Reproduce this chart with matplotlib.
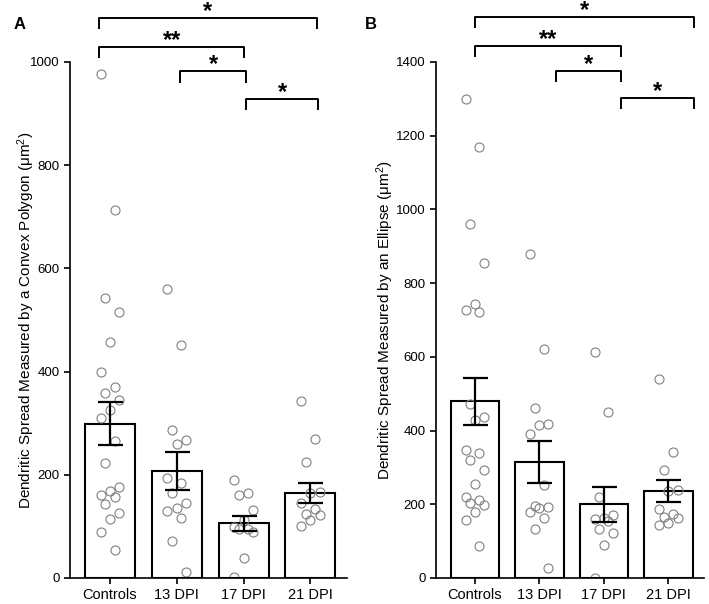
import numpy as np
import matplotlib
matplotlib.use("Agg")
from matplotlib import pyplot as plt
from matplotlib import transforms

plt.rcParams['font.family'] = ['Liberation Sans', 'DejaVu Sans']
plt.rcParams['mathtext.fontset'] = 'custom'
plt.rcParams['mathtext.rm'] = 'Liberation Sans'
plt.rcParams['mathtext.it'] = 'Liberation Sans'

groups = ["Controls", "13 DPI", "17 DPI", "21 DPI"]

# panel A: convex polygon (um^2)
polygon_pts = [
    [977, 713, 542, 515, 457, 399, 370, 359, 344, 326, 310, 266, 223, 177,
     168, 160, 157, 144, 126, 115, 90, 54],
    [560, 451, 286, 268, 259, 193, 185, 165, 146, 136, 130, 117, 72, 12],
    [190, 165, 160, 131, 113, 99, 94, 94, 90, 39, 1],
    [343, 269, 225, 167, 164, 146, 133, 125, 122, 112, 101],
]
polygon_mean = [299, 208, 106, 165]
polygon_sem = [42, 37, 15, 19]

# panel B: ellipse (um^2)
ellipse_pts = [
    [1299, 1170, 960, 854, 743, 727, 721, 473, 437, 428, 348, 340, 321, 294,
     255, 219, 211, 204, 198, 178, 157, 87],
    [878, 622, 462, 417, 414, 390, 252, 196, 193, 190, 178, 164, 132, 26],
    [614, 450, 220, 171, 162, 160, 155, 133, 121, 89, 0],
    [540, 342, 294, 240, 236, 187, 173, 166, 162, 148, 145],
]
ellipse_mean = [479, 315, 200, 236]
ellipse_sem = [63, 57, 48, 30]

sig_labels = ["*", "**", "*", "*"]

fig = plt.figure(figsize=(7.09, 6.04), dpi=100)
axA = fig.add_axes([70 / 709, 26 / 604, 277 / 709, 516 / 604])
axB = fig.add_axes([436 / 709, 26 / 604, 268 / 709, 516 / 604])


def draw_panel(ax, pts, means, sems, ymax, ystep, ylabel, brackets, letter, letter_x, label_x):
    x = np.arange(len(groups))
    ax.bar(x, means, width=0.75, color='white', edgecolor='black', linewidth=1.5, zorder=1)
    for i, vals in enumerate(pts):
        n = len(vals)
        jit = ((np.arange(n) * 3) % 5 - 2) * 0.07
        ax.plot(i + jit, vals, 'o', mfc='none', mec='#808080', mew=0.8, ms=6.5,
                linestyle='none', zorder=2)
    ax.errorbar(x, means, yerr=sems, fmt='none', ecolor='black', elinewidth=1.6,
                capsize=9, capthick=1.6, zorder=3)
    ax.set_xlim(-0.6, 3.55)
    ax.set_ylim(0, ymax)
    ax.set_yticks(np.arange(0, ymax + 1, ystep))
    ax.set_xticks(x)
    ax.set_xticklabels(groups, fontsize=10.5)
    ax.tick_params(axis='y', labelsize=9.5, length=4, width=1.2)
    ax.tick_params(axis='x', length=4, width=1.2)
    for s in ['top', 'right']:
        ax.spines[s].set_visible(False)
    for s in ['left', 'bottom']:
        ax.spines[s].set_linewidth(1.2)
    ax.set_ylabel(ylabel, fontsize=11)
    ax.yaxis.set_label_coords(label_x, 0.5)

    tr = transforms.blended_transform_factory(ax.transData, ax.transAxes)
    for (x0, x1, yb), lab in zip(brackets, sig_labels):
        ax.plot([x0, x0, x1, x1], [yb - 0.02, yb, yb, yb - 0.02], color='black',
                lw=1.4, transform=tr, clip_on=False)
        ax.text((x0 + x1) / 2, yb, lab, transform=tr, ha='center', va='baseline',
                fontsize=17, fontweight='bold')
    ax.text(letter_x, 1.072, letter, transform=ax.transAxes, fontsize=12,
            fontweight='bold', ha='left', va='center')


draw_panel(axA, polygon_pts, polygon_mean, polygon_sem, 1000, 200,
           r'Dendritic Spread Measured by a Convex Polygon ($\mathrm{\mu m^2}$)',
           [(-0.165, 3.1, 1.085), (-0.165, 2.01, 1.029), (1.05, 2.04, 0.982), (2.04, 3.12, 0.928)],
           'A', -0.205, -0.12)
draw_panel(axB, ellipse_pts, ellipse_mean, ellipse_sem, 1400, 200,
           r'Dendritic Spread Measured by an Ellipse ($\mathrm{\mu m^2}$)',
           [(0.0, 3.4, 1.088), (0.0, 2.26, 1.031), (1.26, 2.26, 0.983), (2.26, 3.4, 0.930)],
           'B', -0.265, -0.149)

fig.savefig("out.png", dpi=100)
